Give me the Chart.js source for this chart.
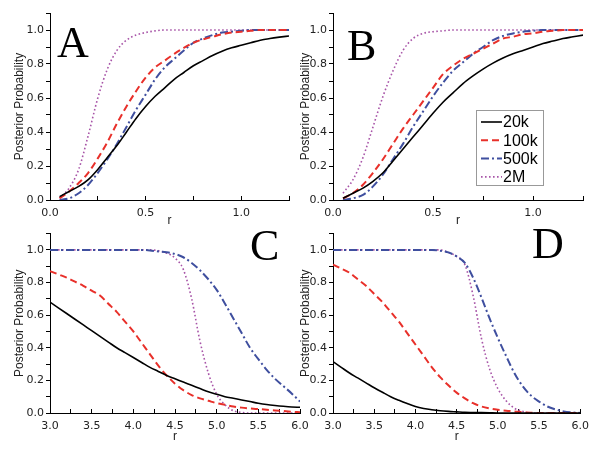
<!DOCTYPE html>
<html>
<head>
<meta charset="utf-8">
<script src="https://cdn.jsdelivr.net/npm/chart.js@4"></script>
<style>
  body { margin: 0; background: #fff; }
  #wrap { position: relative; width: 600px; height: 450px; overflow: hidden; background: #fff; }
  canvas { position: absolute; }
</style>
</head>
<body>
<div id="wrap">
  <canvas id="cA" width="300" height="225" style="left:0;top:0"></canvas>
  <canvas id="cC" width="320" height="225" style="left:0;top:225px"></canvas>
  <canvas id="cB" width="300" height="225" style="left:300px;top:0"></canvas>
  <canvas id="cD" width="300" height="225" style="left:300px;top:225px"></canvas>
</div>
<script>
// series names (legend)
const seriesNames = ['20k', '100k', '500k', '2M'];

// r values, top panels (A, B)
const rLow = [0.05, 0.10, 0.15, 0.20, 0.25, 0.30, 0.35, 0.40, 0.45, 0.50, 0.55, 0.60, 0.65,
              0.70, 0.75, 0.80, 0.85, 0.90, 0.95, 1.00, 1.05, 1.10, 1.15, 1.20, 1.25];
// r values, bottom panels (C, D)
const rHigh = [3.0, 3.1, 3.2, 3.3, 3.4, 3.5, 3.6, 3.7, 3.8, 3.9, 4.0, 4.1, 4.2, 4.3, 4.4, 4.5,
               4.6, 4.7, 4.8, 4.9, 5.0, 5.1, 5.2, 5.3, 5.4, 5.5, 5.6, 5.7, 5.8, 5.9, 6.0];

// panel A
const a20k  = [0.02, 0.05, 0.08, 0.12, 0.18, 0.25, 0.32, 0.40, 0.48, 0.55, 0.61, 0.66, 0.71,
               0.75, 0.79, 0.82, 0.85, 0.875, 0.895, 0.91, 0.925, 0.94, 0.95, 0.958, 0.965];
const a100k = [0.01, 0.05, 0.10, 0.16, 0.245, 0.34, 0.45, 0.55, 0.64, 0.72, 0.78, 0.82, 0.86,
               0.895, 0.925, 0.945, 0.96, 0.975, 0.985, 0.99, 0.995, 1, 1, 1, 1];
const a500k = [0, 0.01, 0.04, 0.09, 0.16, 0.24, 0.33, 0.43, 0.53, 0.62, 0.71, 0.78, 0.83,
               0.88, 0.925, 0.95, 0.97, 0.985, 0.99, 0.995, 1, 1, 1, 1, 1];
const a2M   = [0.01, 0.07, 0.18, 0.38, 0.60, 0.77, 0.88, 0.94, 0.97, 0.985, 0.995, 1, 1,
               1, 1, 1, 1, 1, 1, 1, 1, 1, 1, 1, 1];

// panel B
const b20k  = [0.01, 0.04, 0.07, 0.11, 0.16, 0.23, 0.30, 0.37, 0.44, 0.51, 0.575, 0.63, 0.685,
               0.73, 0.77, 0.805, 0.835, 0.86, 0.88, 0.90, 0.92, 0.935, 0.95, 0.96, 0.97];
const b100k = [0.01, 0.04, 0.09, 0.16, 0.24, 0.33, 0.42, 0.50, 0.58, 0.66, 0.74, 0.79, 0.83,
               0.86, 0.89, 0.92, 0.95, 0.96, 0.975, 0.98, 0.99, 0.995, 1, 1, 1];
const b500k = [0, 0.01, 0.03, 0.08, 0.15, 0.24, 0.33, 0.43, 0.52, 0.61, 0.69, 0.76, 0.81,
               0.86, 0.90, 0.94, 0.965, 0.98, 0.99, 0.995, 1, 1, 1, 1, 1];
const b2M   = [0.04, 0.12, 0.25, 0.43, 0.61, 0.76, 0.88, 0.95, 0.98, 0.99, 0.995, 1, 1,
               1, 1, 1, 1, 1, 1, 1, 1, 1, 1, 1, 1];

// panel C
const c20k  = [0.68, 0.645, 0.61, 0.575, 0.54, 0.505, 0.47, 0.435, 0.40, 0.37, 0.34, 0.31, 0.28,
               0.255, 0.23, 0.21, 0.19, 0.17, 0.15, 0.13, 0.115, 0.10, 0.09, 0.08, 0.07, 0.06,
               0.052, 0.046, 0.041, 0.037, 0.035];
const c100k = [0.87, 0.85, 0.83, 0.805, 0.78, 0.75, 0.72, 0.67, 0.62, 0.56, 0.50, 0.43, 0.36,
               0.29, 0.23, 0.18, 0.14, 0.11, 0.09, 0.075, 0.06, 0.05, 0.04, 0.033, 0.028, 0.024,
               0.02, 0.016, 0.012, 0.008, 0.005];
const c500k = [1, 1, 1, 1, 1, 1, 1, 1, 1, 1, 1, 1, 0.997, 0.99, 0.985, 0.975, 0.955, 0.92, 0.875,
               0.82, 0.755, 0.67, 0.58, 0.49, 0.40, 0.33, 0.265, 0.21, 0.165, 0.12, 0.07];
const c2M   = [1, 1, 1, 1, 1, 1, 1, 1, 1, 1, 1, 1, 1, 0.995, 0.98, 0.95, 0.88, 0.70, 0.44, 0.245,
               0.115, 0.05, 0.014, 0.003, 0, 0, 0, 0, 0, 0, 0];

// panel D
const d20k  = [0.315, 0.28, 0.245, 0.215, 0.185, 0.155, 0.127, 0.10, 0.078, 0.058, 0.04, 0.028,
               0.02, 0.014, 0.01, 0.007, 0.004, 0.003, 0.002, 0.001, 0, 0, 0, 0, 0, 0, 0, 0, 0, 0, 0];
const d100k = [0.91, 0.885, 0.86, 0.82, 0.78, 0.73, 0.68, 0.62, 0.56, 0.49, 0.42, 0.35, 0.28,
               0.22, 0.17, 0.125, 0.09, 0.06, 0.04, 0.028, 0.02, 0.014, 0.01, 0.005, 0.002,
               0, 0, 0, 0, 0, 0];
const d500k = [1, 1, 1, 1, 1, 1, 1, 1, 1, 1, 1, 1, 1, 0.995, 0.985, 0.96, 0.92, 0.83, 0.71, 0.58,
               0.46, 0.35, 0.245, 0.165, 0.108, 0.07, 0.04, 0.022, 0.01, 0.004, 0];
const d2M   = [1, 1, 1, 1, 1, 1, 1, 1, 1, 1, 1, 1, 1, 1, 0.985, 0.96, 0.91, 0.72, 0.46, 0.27,
               0.15, 0.075, 0.03, 0.01, 0, 0, 0, 0, 0, 0, 0];

const lineStyles = [
  { borderColor: '#000000', borderWidth: 1.6, borderDash: [] },
  { borderColor: '#e8302a', borderWidth: 2, borderDash: [7, 4] },
  { borderColor: '#3f4f9f', borderWidth: 2, borderDash: [8, 3, 2, 3] },
  { borderColor: '#a855a8', borderWidth: 1.6, borderDash: [1.6, 2.4] }
];

const tickFont = { family: '"DejaVu Sans", sans-serif', size: 11 };
const titleFont = { family: '"Liberation Sans", Arial, sans-serif', size: 12 };

// big panel letter
const letterPlugin = {
  id: 'panelLetter',
  afterDraw(chart, args, opts) {
    const c = chart.ctx;
    c.save();
    c.font = '44px "Liberation Serif", "Times New Roman", serif';
    c.fillStyle = '#000';
    c.textBaseline = 'alphabetic';
    c.fillText(opts.text, opts.x, opts.y);
    c.restore();
  }
};

// boxed legend inside panel B
const boxLegend = {
  id: 'boxLegend',
  afterDraw(chart, args, opts) {
    if (!opts.show) return;
    const c = chart.ctx;
    c.save();
    c.strokeStyle = '#999';
    c.lineWidth = 1;
    c.strokeRect(opts.x + 0.5, opts.y + 0.5, opts.w, opts.h);
    c.font = '16px "Liberation Sans", Arial, sans-serif';
    c.textBaseline = 'middle';
    chart.data.datasets.forEach((ds, i) => {
      const yy = opts.y + opts.first + i * opts.row;
      c.strokeStyle = ds.borderColor;
      c.lineWidth = ds.borderWidth;
      c.setLineDash(ds.borderDash);
      c.beginPath();
      c.moveTo(opts.x + 5, yy);
      c.lineTo(opts.x + 26, yy);
      c.stroke();
      c.setLineDash([]);
      c.fillStyle = '#000';
      c.fillText(ds.label, opts.x + 27, yy + 1);
    });
    c.restore();
  }
};

function makeDatasets(r, series) {
  return series.map((vals, i) => Object.assign({
    label: seriesNames[i],
    data: vals.map((v, k) => ({ x: r[k], y: v })),
    pointRadius: 0,
    fill: false,
    cubicInterpolationMode: 'monotone'
  }, lineStyles[i]));
}

function makeChart(id, r, series, cfg) {
  return new Chart(document.getElementById(id), {
    type: 'line',
    data: { datasets: makeDatasets(r, series) },
    options: {
      responsive: false,
      animation: false,
      layout: { padding: { left: cfg.padLeft, top: cfg.padTop, right: cfg.padRight, bottom: 0 } },
      plugins: {
        legend: { display: false },
        tooltip: { enabled: false },
        panelLetter: cfg.letter,
        boxLegend: cfg.legend || { show: false }
      },
      scales: {
        x: {
          type: 'linear',
          min: cfg.xMin,
          max: cfg.xMax,
          afterFit: s => { s.height = cfg.xHeight; },
          border: { display: true, color: '#000', width: 1 },
          grid: { drawOnChartArea: false, tickLength: -4, color: '#000' },
          ticks: {
            stepSize: 0.25,
            autoSkip: false,
            maxRotation: 0,
            padding: 11,
            color: '#222',
            font: tickFont,
            callback: v => Math.abs(v * 2 - Math.round(v * 2)) < 1e-6 ? v.toFixed(1) : ''
          },
          title: { display: true, text: 'r', color: '#222', font: titleFont, padding: { top: 0, bottom: cfg.xTitlePad } }
        },
        y: {
          min: 0,
          max: 1.1,
          afterFit: s => { s.width = cfg.yWidth; },
          border: { display: true, color: '#000', width: 1 },
          grid: { drawOnChartArea: false, tickLength: 4, color: '#000' },
          ticks: {
            stepSize: 0.1,
            padding: 2,
            color: '#222',
            font: tickFont,
            callback: v => Math.round(v * 10) % 2 === 0 ? v.toFixed(1) : ''
          },
          title: { display: true, text: 'Posterior Probability', color: '#222', font: titleFont, padding: { top: cfg.yTitlePad, bottom: 0 } }
        }
      }
    },
    plugins: [letterPlugin, boxLegend]
  });
}

makeChart('cA', rLow, [a20k, a100k, a500k, a2M], {
  xMin: 0, xMax: 1.25, padLeft: 12, yWidth: 38, padTop: 13, padRight: 0, xHeight: 25,
  yTitlePad: 0, xTitlePad: -3, letter: { text: 'A', x: 57, y: 57 }
});
makeChart('cB', rLow, [b20k, b100k, b500k, b2M], {
  xMin: 0, xMax: 1.25, padLeft: 0, yWidth: 33, padTop: 13, padRight: 17, xHeight: 25,
  yTitlePad: -2, xTitlePad: -3, letter: { text: 'B', x: 47, y: 60 },
  legend: { show: true, x: 176, y: 110, w: 67, h: 75, first: 12, row: 18.3 }
});
makeChart('cC', rHigh, [c20k, c100k, c500k, c2M], {
  xMin: 3, xMax: 6, padLeft: 12, yWidth: 38, padTop: 1, padRight: 20, xHeight: 37,
  yTitlePad: 0, xTitlePad: 6, letter: { text: 'C', x: 250, y: 35 }
});
makeChart('cD', rHigh, [d20k, d100k, d500k, d2M], {
  xMin: 3, xMax: 6, padLeft: 0, yWidth: 33, padTop: 1, padRight: 17, xHeight: 37,
  yTitlePad: -2, xTitlePad: 6, letter: { text: 'D', x: 232, y: 33 }
});
</script>
</body>
</html>
